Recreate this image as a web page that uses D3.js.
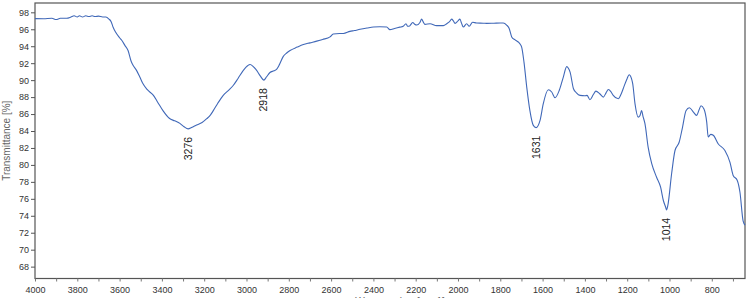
<html>
<head>
<script src="https://d3js.org/d3.v7.min.js"></script>
<style>
body { margin: 0; background: white; }
text { font-family: "Liberation Sans", Arial, sans-serif; }
</style>
</head>
<body>
<svg height="298" width="749" id="chart"></svg>
<script>

// wavenumber (cm-1) and transmittance (%)
var wavenumbers = [4000,3960,3920,3900,3880,3850,3830,3815,3800,3790,3775,3760,3745,3730,3715,3700,3680,3665,3650,3640,3630,3620,3600,3590,3575,3560,3545,3535,3520,3505,3490,3470,3440,3420,3395,3365,3340,3315,3295,3276,3260,3236,3210,3188,3170,3157,3135,3110,3085,3062,3040,3015,2995,2983,2968,2952,2935,2918,2905,2889,2870,2857,2845,2826,2810,2794,2760,2731,2700,2668,2640,2605,2590,2560,2542,2511,2490,2463,2430,2400,2370,2337,2322,2300,2275,2259,2246,2238,2231,2214,2205,2195,2180,2172,2165,2156,2132,2101,2069,2053,2040,2030,2022,2014,2000,1991,1983,1975,1959,1947,1931,1912,1880,1864,1830,1800,1786,1770,1758,1746,1730,1715,1705,1699,1688,1675,1660,1644,1631,1612,1597,1573,1557,1541,1521,1502,1486,1478,1470,1454,1440,1423,1400,1390,1376,1360,1348,1330,1313,1300,1289,1276,1266,1242,1228,1215,1200,1191,1180,1174,1163,1148,1140,1132,1125,1116,1101,1084,1061,1042,1029,1018,1014,1008,990,974,954,938,922,906,887,872,860,851,837,824,817,805,793,770,738,714,699,680,667,652,643];
var transmittance = [97.26,97.25,97.3,97.15,97.3,97.3,97.45,97.6,97.45,97.6,97.45,97.6,97.5,97.6,97.5,97.55,97.45,97.45,97.2,96.9,96.2,95.7,95.0,94.7,94.1,93.5,92.2,91.7,91.15,90.4,89.6,88.9,88.2,87.4,86.4,85.5,85.2,84.9,84.5,84.25,84.4,84.7,85.0,85.45,85.9,86.4,87.3,88.2,88.8,89.4,90.2,91.15,91.7,91.85,91.6,91.15,90.5,90.0,90.4,90.9,91.1,91.3,91.8,92.8,93.2,93.5,93.9,94.2,94.4,94.6,94.8,95.1,95.45,95.5,95.5,95.75,95.85,96.0,96.15,96.27,96.3,96.27,95.96,96.1,96.25,96.35,96.66,96.35,96.35,96.8,96.6,96.5,96.8,97.2,96.9,96.58,96.66,96.43,96.43,96.66,96.9,97.2,97.0,96.7,97.0,97.2,96.7,96.27,96.66,96.35,96.83,96.74,96.72,96.7,96.72,96.74,96.74,96.5,96.1,95.1,94.75,94.5,94.2,93.9,92.13,89.18,86.4,84.66,84.4,85.25,87.2,88.87,88.6,87.93,88.8,90.36,91.6,91.4,90.95,88.99,88.5,88.2,88.15,88.2,87.69,88.3,88.7,88.4,88.0,88.5,88.9,88.6,88.2,87.8,88.4,89.26,90.2,90.64,90.2,89.58,87.2,85.64,85.8,86.4,85.7,84.86,82.1,80.14,78.55,77.37,75.8,75.0,74.7,75.2,78.96,81.7,82.7,84.5,86.4,86.75,86.23,85.84,86.5,86.98,86.6,85.05,83.3,83.6,83.5,82.5,81.7,80.3,78.76,78.2,76.8,73.4,72.9];

// labelled band minima
var peaks = [3276, 2918, 1631, 1014];

var yTicks = d3.range(68, 99, 2);
var xMinor = d3.range(4000, 699, -100);

var plotLeft = 35, plotRight = 745, plotTop = 3, plotBottom = 278.5;

var svg = d3.select("#chart");

var x = d3.scaleLinear()
  .domain([4000, 643])
  .range([plotLeft, plotRight]);

var y = d3.scaleLinear()
  .domain([66.6, 99.1])
  .range([plotBottom, plotTop]);

var points = wavenumbers.map(function (w, i) { return [w, transmittance[i]]; });

// plot frame
svg.append("rect")
  .attr("x", plotLeft)
  .attr("y", plotTop)
  .attr("width", plotRight - plotLeft)
  .attr("height", plotBottom - plotTop)
  .attr("fill", "none")
  .style("stroke", "#555")
  .style("stroke-width", 1.2);

// y axis
var yAxis = svg.append("g")
  .attr("transform", "translate(" + plotLeft + ",0)")
  .call(d3.axisLeft(y).tickValues(yTicks).tickSize(4).tickPadding(2));
yAxis.select(".domain").remove();
yAxis.selectAll("line").style("stroke", "#555");
yAxis.selectAll("text")
  .style("font-size", "9px")
  .style("fill", "#333");

// x axis, minor ticks every 100, labels every 200
var xAxis = svg.append("g")
  .attr("transform", "translate(0," + plotBottom + ")")
  .call(d3.axisBottom(x).tickValues(xMinor).tickSize(3).tickPadding(5)
    .tickFormat(function (d) { return d % 200 == 0 ? d : ""; }));
xAxis.select(".domain").remove();
xAxis.selectAll("line").style("stroke", "#777");
xAxis.selectAll("text")
  .style("font-size", "9px")
  .style("fill", "#333");

// axis titles (the x title sits mostly below the frame, as in the original)
svg.append("text")
  .attr("transform", "translate(10," + ((plotTop + plotBottom) / 2) + ") rotate(-90)")
  .attr("text-anchor", "middle")
  .style("font-size", "10px")
  .style("fill", "#666")
  .text("Transmittance [%]");

svg.append("text")
  .attr("x", (plotLeft + plotRight) / 2 + 10)
  .attr("y", 305)
  .attr("text-anchor", "middle")
  .style("font-size", "10px")
  .style("fill", "#666")
  .text("Wavenumber [cm-1]");

// spectrum
var line = d3.line()
  .x(function (d) { return x(d[0]); })
  .y(function (d) { return y(d[1]); })
  .curve(d3.curveMonotoneX);

svg.append("path")
  .datum(points)
  .attr("d", line)
  .attr("fill", "none")
  .style("stroke", "#4068b8")
  .style("stroke-width", 1.1);

// peak labels, written upward just under the band minimum
var lookup = d3.scaleLinear().domain(wavenumbers).range(transmittance);
peaks.forEach(function (p) {
  var px = x(p) + 3.5, py = y(lookup(p)) + 8;
  svg.append("text")
    .attr("transform", "translate(" + px + "," + py + ") rotate(-90)")
    .attr("text-anchor", "end")
    .style("font-size", "10.5px")
    .style("fill", "#222")
    .text(p);
});

</script>
</body>
</html>
